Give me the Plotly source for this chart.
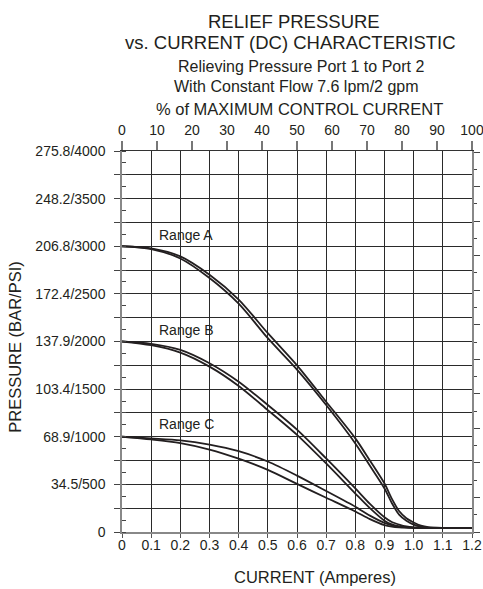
import plotly.graph_objects as go

# ---- data (current in A, pressure in psi) ----
current_a = [0, 0.1, 0.2, 0.3, 0.4, 0.5, 0.6, 0.7, 0.8, 0.85, 0.9, 0.925, 0.95, 0.975, 1.0, 1.025, 1.05, 1.1, 1.2]
range_a_hi = [3000, 2977, 2893, 2700, 2440, 2087, 1750, 1368, 983, 750, 509, 350, 220, 145, 100, 66, 50, 43, 42]
range_a_lo = [3000, 2971, 2872, 2666, 2397, 2035, 1705, 1333, 930, 695, 457, 305, 182, 118, 78, 56, 46, 42, 42]
range_b_hi = [2000, 1975, 1912, 1772, 1578, 1333, 1075, 772, 457, 295, 155, 105, 78, 58, 48, 44, 43, 42, 42]
range_b_lo = [2000, 1961, 1883, 1736, 1533, 1280, 1020, 720, 404, 250, 118, 80, 60, 50, 45, 43, 42, 42, 42]
range_c_hi = [1000, 982, 962, 917, 848, 740, 592, 430, 265, 172, 95, 70, 56, 48, 44, 43, 42, 42, 42]
range_c_lo = [1000, 972, 934, 866, 770, 652, 505, 360, 215, 135, 72, 57, 49, 45, 43, 42, 42, 42, 42]

x_ticks = [0, 0.1, 0.2, 0.3, 0.4, 0.5, 0.6, 0.7, 0.8, 0.9, 1.0, 1.1, 1.2]
x_ticktext = ["0", "0.1", "0.2", "0.3", "0.4", "0.5", "0.6", "0.7", "0.8", "0.9", "1.0", "1.1", "1.2"]
pct_ticks = [0, 10, 20, 30, 40, 50, 60, 70, 80, 90, 100]
y_ticks = [0, 250, 500, 750, 1000, 1250, 1500, 1750, 2000, 2250, 2500, 2750, 3000, 3250, 3500, 3750, 4000]
y_ticktext = ["0", "", "34.5/500", "", "68.9/1000", "", "103.4/1500", "", "137.9/2000", "",
              "172.4/2500", "", "206.8/3000", "", "248.2/3500", "", "275.8/4000"]
bar_ticks = [0, 25, 50, 75, 100, 125, 150, 175, 200, 225, 250, 275]

range_labels = ["Range A", "Range B", "Range C"]
range_label_x = [0.22, 0.22, 0.22]
range_label_y = [3121, 2120, 1130]

MAX_CURRENT = 1.2
PSI_PER_BAR = 14.5038

INK = "#231f20"
FONT = "Liberation Sans, Arial, sans-serif"

fig = go.Figure()
for ys in [range_a_hi, range_a_lo, range_b_hi, range_b_lo, range_c_hi, range_c_lo]:
    fig.add_trace(go.Scatter(x=current_a, y=ys, mode="lines",
                             line=dict(color=INK, width=1.8, shape="spline", smoothing=0.8),
                             showlegend=False, hoverinfo="skip"))

# invisible copy on the secondary (percent / bar) axes so they are drawn
fig.add_trace(go.Scatter(x=[c / MAX_CURRENT * 100 for c in current_a],
                         y=[p / PSI_PER_BAR for p in range_a_hi],
                         xaxis="x2", yaxis="y2", mode="lines", opacity=0,
                         line=dict(width=0), showlegend=False, hoverinfo="skip"))

fig.update_layout(
    width=483, height=589,
    margin=dict(l=122, r=11, t=151, b=57, autoexpand=False),
    paper_bgcolor="white", plot_bgcolor="white",
    font=dict(family=FONT, color=INK, size=14),
    showlegend=False,
    xaxis=dict(range=[0, 1.2], tickvals=x_ticks, ticktext=x_ticktext, automargin=False,
               ticks="outside", ticklen=4, tickcolor="#555", tickwidth=1,
               ticklabelstandoff=-5, ticklabeloverflow="allow",
               showgrid=True, gridcolor="#2a2a2a", gridwidth=1,
               showline=True, linecolor="#888", linewidth=1.5,
               zeroline=False, tickfont=dict(size=14, color=INK)),
    xaxis2=dict(range=[0, 100], overlaying="x", side="top", anchor="y2", automargin=False,
                tickvals=pct_ticks, ticks="outside", ticklen=9, tickcolor="#777", tickwidth=1.5,
                ticklabeloverflow="allow",
                showgrid=False, showline=True, linecolor="#333", linewidth=1.2,
                zeroline=False, tickfont=dict(size=14, color=INK)),
    yaxis=dict(range=[0, 4000], tickvals=y_ticks, ticktext=y_ticktext, automargin=False,
               ticks="outside", ticklen=6, tickcolor="#444", tickwidth=1.2,
               ticklabelstandoff=6,
               minor=dict(dtick=125, tick0=0, ticks="inside", ticklen=4, tickcolor="#444", showgrid=False),
               showgrid=True, gridcolor="#2a2a2a", gridwidth=1,
               showline=True, linecolor="#888", linewidth=1.5,
               zeroline=False, tickfont=dict(size=14, color=INK)),
    yaxis2=dict(range=[0, 275.79], overlaying="y", side="right", anchor="x2", automargin=False,
                tickvals=bar_ticks, ticks="outside", ticklen=6, tickcolor="#444", tickwidth=1.2,
                minor=dict(dtick=12.5, tick0=0, ticks="outside", ticklen=3, tickcolor="#444"),
                showticklabels=False, showgrid=False,
                showline=True, linecolor="#888", linewidth=1.5, zeroline=False),
)

ann = [
    dict(text="RELIEF PRESSURE", x=0.49, y=1.339, size=18.5),
    dict(text="vs. CURRENT (DC) CHARACTERISTIC", x=0.48, y=1.286, size=18.5),
    dict(text="Relieving Pressure Port 1 to Port 2", x=0.51, y=1.222, size=16),
    dict(text="With Constant Flow 7.6 lpm/2 gpm", x=0.499, y=1.169, size=16),
    dict(text="% of MAXIMUM CONTROL CURRENT", x=0.506, y=1.111, size=16.5),
    dict(text="CURRENT (Amperes)", x=0.551, y=-0.118, size=16.5),
]
for a in ann:
    fig.add_annotation(text=a["text"], x=a["x"], y=a["y"], xref="paper", yref="paper",
                       xanchor="center", yanchor="middle", showarrow=False,
                       font=dict(size=a["size"], color=INK, family=FONT))
fig.add_annotation(text="PRESSURE (BAR/PSI)", x=-0.306, y=0.486, xref="paper", yref="paper",
                   xanchor="center", yanchor="middle", showarrow=False, textangle=-90,
                   font=dict(size=16.5, color=INK, family=FONT))
for t, lx, ly in zip(range_labels, range_label_x, range_label_y):
    fig.add_annotation(text=t, x=lx, y=ly, xref="x", yref="y", showarrow=False,
                       xanchor="center", yanchor="middle",
                       font=dict(size=14, color=INK, family=FONT))

fig.write_html("out.html", config={"displayModeBar": False},
               post_script="document.body.style.margin='0';document.body.style.overflow='hidden';")
